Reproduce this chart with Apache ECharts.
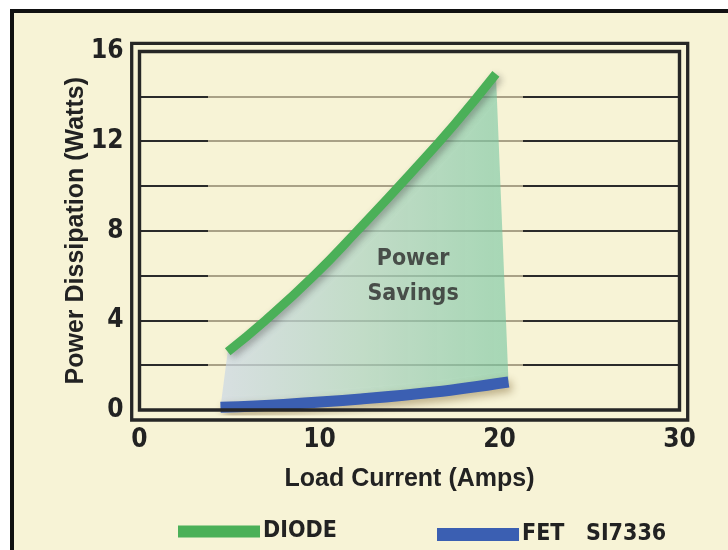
<!DOCTYPE html>
<html><head><meta charset="utf-8">
<script src="https://cdn.jsdelivr.net/npm/echarts@6/dist/echarts.min.js"></script>
<style>
html,body{margin:0;padding:0;background:#ffffff;overflow:hidden;}
#wrap{position:relative;width:728px;height:550px;overflow:hidden;}
#bg{position:absolute;left:10px;top:9px;width:800px;height:620px;box-sizing:border-box;background:#f7f3d6;border:4px solid #111;}
#c{position:absolute;left:0;top:0;width:728px;height:550px;}
</style>
</head><body>
<div id="wrap"><div id="bg"></div><div id="c"></div></div>
<script>
// ---- data ----
const xTicks = [0, 10, 20, 30];
const yTicks = [0, 4, 8, 12, 16];
const diodeX = [4.9, 7, 9.7, 12.1, 15, 17.5, 19.8];
const diodeY = [2.6, 4.0, 6.0, 8.0, 10.5, 12.75, 15.0];
const fetX = [4.5, 8, 12.3, 16.4, 20.5];
const fetY = [0.12, 0.25, 0.49, 0.8, 1.25];
const seriesNames = ['DIODE', 'FET   SI7336'];
const annotation = ['Power', 'Savings'];
const annotationAt = [15.2, 5.95];
const xName = 'Load Current (Amps)';
const yName = 'Power Dissipation (Watts)';

const NARROW = "'Liberation Sans Narrow','DejaVu Sans Condensed','Arial Narrow',sans-serif";
const SANS = "'Liberation Sans',Arial,Helvetica,sans-serif";
const GREEN = '#4bb058';
const BLUE = '#3b5fb2';
const INK = '#222222';
const FRAME = '#262626';

const chart = echarts.init(document.getElementById('c'), null, {renderer: 'canvas'});

const diodeData = diodeX.map((x, i) => [x, diodeY[i]]);
const fetData = fetX.map((x, i) => [x, fetY[i]]);

const gridColor = {
  type: 'linear', x: 0, y: 0, x2: 1, y2: 0,
  colorStops: [
    {offset: 0, color: '#2a2a2a'}, {offset: 0.131, color: '#2a2a2a'},
    {offset: 0.131, color: '#a9a187'}, {offset: 0.708, color: '#a9a187'},
    {offset: 0.708, color: '#2a2a2a'}, {offset: 1, color: '#2a2a2a'}
  ]
};

const G = {left: 139.5, right: 48.5, top: 51.5, bottom: 140};

const option = {
  backgroundColor: 'transparent',
  animation: false,
  grid: {left: G.left, right: G.right, top: G.top, bottom: G.bottom, show: false},
  xAxis: {
    type: 'value', min: xTicks[0], max: xTicks[xTicks.length - 1], interval: 10,
    axisLine: {show: false}, axisTick: {show: false}, splitLine: {show: false},
    axisLabel: {
      margin: 17, color: INK, fontSize: 26, fontWeight: 'bold', fontFamily: NARROW,
      formatter: v => (xTicks.indexOf(v) >= 0 ? String(v) : '')
    },
    name: xName, nameLocation: 'middle', nameGap: 57, nameMoveOverlap: false,
    nameTextStyle: {color: INK, fontSize: 25, fontWeight: 'bold', fontFamily: SANS}
  },
  yAxis: {
    type: 'value', min: yTicks[0], max: yTicks[yTicks.length - 1], interval: 2,
    axisLine: {show: false}, axisTick: {show: false},
    splitLine: {show: true, lineStyle: {color: gridColor, width: 2}},
    axisLabel: {
      margin: 16, color: INK, fontSize: 26, fontWeight: 'bold', fontFamily: NARROW,
      formatter: v => (yTicks.indexOf(v) >= 0 ? String(v) : '')
    },
    name: yName, nameLocation: 'middle', nameGap: 51, nameMoveOverlap: false,
    nameTextStyle: {color: INK, fontSize: 25, fontWeight: 'bold', fontFamily: SANS}
  },
  legend: [
    {
      data: [{name: seriesNames[0], icon: 'rect'}], left: 173, top: 515,
      itemWidth: 82, itemHeight: 12, itemGap: 0, selectedMode: false,
      textStyle: {color: INK, fontSize: 23, fontWeight: 'bold', fontFamily: NARROW, padding: [0, 0, 0, -2]}
    },
    {
      data: [{name: seriesNames[1], icon: 'rect'}], left: 432, top: 518,
      itemWidth: 82, itemHeight: 13, itemGap: 0, selectedMode: false,
      textStyle: {color: INK, fontSize: 23, fontWeight: 'bold', fontFamily: NARROW, padding: [0, 0, 0, -2]}
    }
  ],
  graphic: [
    {
      type: 'rect', z: 10, silent: true,
      shape: {x: 131.7, y: 43.3, width: 556, height: 376.7},
      style: {fill: 'transparent', stroke: FRAME, lineWidth: 3.3}
    },
    {
      type: 'rect', z: 10, silent: true,
      shape: {x: G.left, y: G.top, width: 728 - G.left - G.right, height: 550 - G.top - G.bottom},
      style: {fill: 'transparent', stroke: FRAME, lineWidth: 3.4}
    }
  ],
  series: [
    {
      type: 'custom', name: 'savings', z: 1, silent: true, clip: false,
      data: [[0]],
      renderItem: function (params, api) {
        const top = diodeData.map(p => api.coord(p));
        const bottom = fetData.slice().reverse().map(p => api.coord(p));
        return {
          type: 'polygon',
          shape: {points: top.concat(bottom)},
          style: {
            fill: new echarts.graphic.LinearGradient(0, 0, 1, 0, [
              {offset: 0, color: 'rgba(196,210,232,0.62)'},
              {offset: 0.5, color: 'rgba(160,205,190,0.62)'},
              {offset: 1, color: 'rgba(112,196,158,0.6)'}
            ])
          }
        };
      }
    },
    {
      type: 'line', name: seriesNames[1], data: fetData, z: 3,
      smooth: 0.4, showSymbol: false, color: BLUE,
      lineStyle: {color: BLUE, width: 11, cap: 'butt',
        shadowColor: 'rgba(110,85,30,0.45)', shadowBlur: 8, shadowOffsetX: 3, shadowOffsetY: 4}
    },
    {
      type: 'line', name: seriesNames[0], data: diodeData, z: 4,
      smooth: 0.5, showSymbol: false, color: GREEN,
      lineStyle: {color: GREEN, width: 9, cap: 'butt',
        shadowColor: 'rgba(40,40,40,0.35)', shadowBlur: 7, shadowOffsetX: 3, shadowOffsetY: 3}
    },
    {
      type: 'scatter', name: 'label', z: 5, silent: true,
      data: [annotationAt], symbolSize: 1, itemStyle: {color: 'transparent'},
      label: {
        show: true, position: 'inside', formatter: annotation.join('\n'),
        color: '#2a2a2a', fontSize: 23, fontWeight: 'bold', fontFamily: NARROW, lineHeight: 35, align: 'center'
      }
    }
  ]
};
chart.setOption(option);
</script>
</body></html>
